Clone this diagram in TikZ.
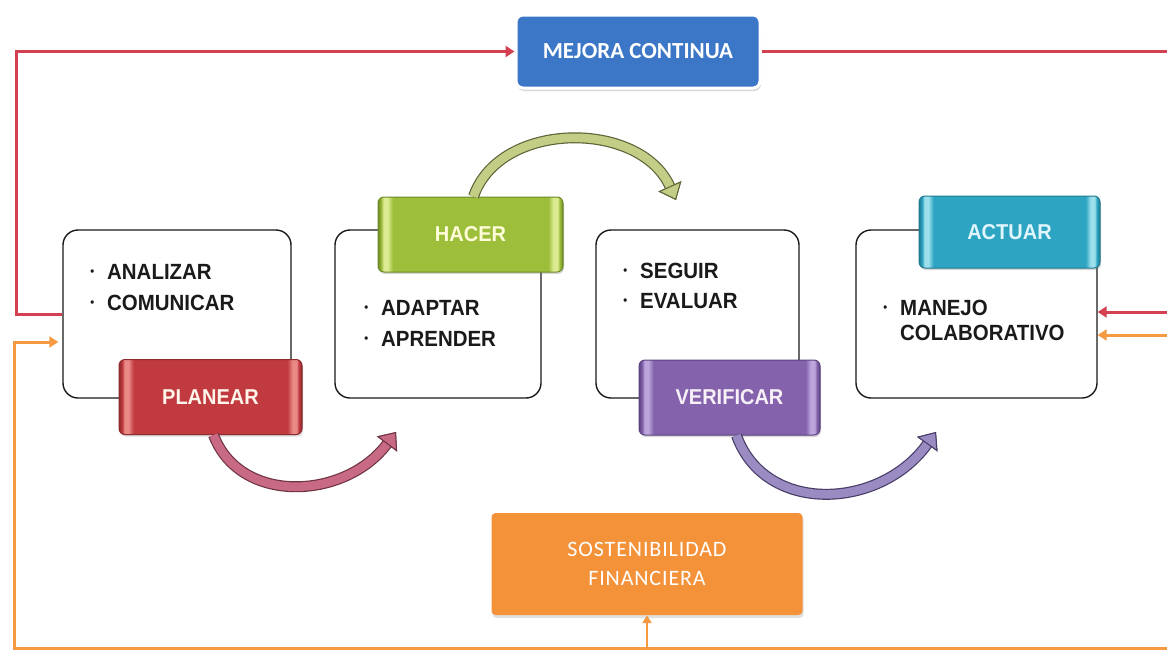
\documentclass[tikz,border=0pt]{standalone}
\usepackage{fontspec}
\newfontfamily\lsans[FakeStretch=0.93]{Liberation Sans}
\newfontfamily\carl{Carlito}
\newfontfamily\carlsp[LetterSpace=4]{Carlito}
\usetikzlibrary{arrows.meta,shadows}

\definecolor{redline}{HTML}{D43F52}
\definecolor{orline}{HTML}{F59A42}
\definecolor{mblue}{HTML}{3B77C6}
\definecolor{sorange}{HTML}{F4923A}
\definecolor{pred}{HTML}{C03A40}\definecolor{predl}{HTML}{E98A86}\definecolor{prede}{HTML}{8E2A2E}
\definecolor{hgreen}{HTML}{9DBE3A}\definecolor{hgreenl}{HTML}{DCEB92}\definecolor{hgreene}{HTML}{6E8A28}
\definecolor{vpurp}{HTML}{8462AC}\definecolor{vpurpl}{HTML}{BCA5DC}\definecolor{vpurpe}{HTML}{5C4480}
\definecolor{acyan}{HTML}{2DA5C2}\definecolor{acyanl}{HTML}{9DE0EC}\definecolor{acyane}{HTML}{1F7A90}
\definecolor{txt}{HTML}{1A1A1A}
\definecolor{pinkf}{HTML}{C96A84}\definecolor{pinko}{HTML}{6E3444}
\definecolor{greenf}{HTML}{C4CD86}\definecolor{greeno}{HTML}{5E6438}
\definecolor{purpf}{HTML}{9A8CC2}\definecolor{purpo}{HTML}{463C66}

\pgfdeclarehorizontalshading{planshade}{100bp}{color(0bp)=(prede); color(25bp)=(prede); color(25.9bp)=(pred); color(26.5bp)=(predl); color(27.6bp)=(predl); color(29bp)=(pred); color(71bp)=(pred); color(72.4bp)=(predl); color(73.5bp)=(predl); color(74.1bp)=(pred); color(75bp)=(prede); color(100bp)=(prede)}
\pgfdeclarehorizontalshading{hacshade}{100bp}{color(0bp)=(hgreene); color(25bp)=(hgreene); color(25.9bp)=(hgreen); color(26.5bp)=(hgreenl); color(27.6bp)=(hgreenl); color(29bp)=(hgreen); color(71bp)=(hgreen); color(72.4bp)=(hgreenl); color(73.5bp)=(hgreenl); color(74.1bp)=(hgreen); color(75bp)=(hgreene); color(100bp)=(hgreene)}
\pgfdeclarehorizontalshading{verishade}{100bp}{color(0bp)=(vpurpe); color(25bp)=(vpurpe); color(25.9bp)=(vpurp); color(26.5bp)=(vpurpl); color(27.6bp)=(vpurpl); color(29bp)=(vpurp); color(71bp)=(vpurp); color(72.4bp)=(vpurpl); color(73.5bp)=(vpurpl); color(74.1bp)=(vpurp); color(75bp)=(vpurpe); color(100bp)=(vpurpe)}
\pgfdeclarehorizontalshading{actshade}{100bp}{color(0bp)=(acyane); color(25bp)=(acyane); color(25.9bp)=(acyan); color(26.5bp)=(acyanl); color(27.6bp)=(acyanl); color(29bp)=(acyan); color(71bp)=(acyan); color(72.4bp)=(acyanl); color(73.5bp)=(acyanl); color(74.1bp)=(acyan); color(75bp)=(acyane); color(100bp)=(acyane)}

\newcommand\bl{\makebox[0pt][r]{\raisebox{4pt}{\fontsize{12}{12}\selectfont\textbullet}\hspace{13pt}}}
\newcommand\curvarrow[3]{%
  \draw[#2, line width=11pt, -{Triangle[length=15pt,width=25pt,line width=1pt,fill=#1,color=#2]}] #3;
  \draw[#1, line width=8.6pt, -{Triangle[length=15pt,width=25pt,line width=1pt,fill=#1,color=#2]}] #3;}

\tikzset{
  wbox/.style={draw=txt, line width=1.4pt, rounded corners=15pt, fill=white, inner sep=0pt, minimum height=168pt},
  lbl/.style={draw=#1, line width=1pt, rounded corners=6pt, inner sep=0pt, minimum height=75pt,
     font=\lsans\bfseries\fontsize{21.5}{21.5}\selectfont,
     drop shadow={shadow xshift=1pt, shadow yshift=-2pt, opacity=.3}},
  itm/.style={inner sep=0pt, anchor=base west, text=txt, font=\lsans\bfseries\fontsize{22}{22}\selectfont},
  rline/.style={draw=redline, line width=3pt},
  oline/.style={draw=orline, line width=3pt},
  tip/.style={-{Triangle[length=9pt,width=11pt]}},
}

\begin{document}
\begin{tikzpicture}[x=1pt,y=-1pt]
\useasboundingbox[fill=white] (0,0) rectangle (1167,651);

% white boxes
\node[wbox, minimum width=228pt] (b1) at (177,314) {};
\node[wbox, minimum width=206pt] (b2) at (438,314) {};
\node[wbox, minimum width=203pt] (b3) at (697.5,314) {};
\node[wbox, minimum width=241pt] (b4) at (976.5,314) {};

% list texts
\node[itm] (t1a) at (107,279) {\bl ANALIZAR};
\node[itm] (t1b) at (107,310) {\bl COMUNICAR};
\node[itm] (t2a) at (381,315) {\bl ADAPTAR};
\node[itm] (t2b) at (381,346) {\bl APRENDER};
\node[itm] (t3a) at (640,278) {\bl SEGUIR};
\node[itm] (t3b) at (640,308) {\bl EVALUAR};
\node[itm] (t4a) at (900,315) {\bl MANEJO};
\node[itm] (t4b) at (900,340) {COLABORATIVO};

% label boxes
\node[lbl=prede, shading=planshade, minimum width=183pt, text=white!92!orange] (planear) at (210.5,397) {PLANEAR};
\node[lbl=hgreene, shading=hacshade, minimum width=185pt, text=white!85!yellow] (hacer) at (470.5,234.5) {HACER};
\node[lbl=vpurpe, shading=verishade, minimum width=181pt, text=white!94!violet] (verificar) at (729.5,397.5) {VERIFICAR};
\node[lbl=acyane, shading=actshade, minimum width=181pt, minimum height=72pt, text=white!88!cyan] (actuar) at (1009.5,232) {ACTUAR};

\node[draw=white, line width=3pt, fill=mblue, rounded corners=7pt, minimum width=244pt, minimum height=73pt, inner sep=0pt,
  text=white, font=\carl\bfseries\fontsize{23}{23}\selectfont,
  drop shadow={shadow xshift=1pt, shadow yshift=-3pt, opacity=.3}] (mejora) at (638,51.5) {MEJORA CONTINUA};

\node[fill=sorange, rounded corners=4pt, minimum width=311pt, minimum height=102pt, inner sep=0pt,
  text=white, align=center, font=\carlsp\fontsize{22}{29}\selectfont,
  drop shadow={shadow xshift=1pt, shadow yshift=-3pt, opacity=.25}] (sost) at (647,564) {SOSTENIBILIDAD\\FINANCIERA};

% curved arrows
\curvarrow{pinkf}{pinko}{([xshift=3pt]planear.south) .. controls (240,505) and (345,500) .. (396,432)}
\curvarrow{greenf}{greeno}{([xshift=3pt]hacer.north) .. controls (500,120) and (640,120) .. (676,200)}
\curvarrow{purpf}{purpo}{([xshift=7pt]verificar.south) .. controls (765,515) and (880,510) .. (936,432)}

% red feedback line
\coordinate (rl) at (16,51.5);
\coordinate (rtr) at (1167,51.5);
\coordinate (rr) at (1167,312);
\draw[rline,tip] (b1.west) -| (rl) -- (mejora.west);
\draw[rline] (mejora.east) -- (rtr);
\draw[rline,tip] (rr) -- (rr -| b4.east);

% orange line
\coordinate (ol) at (14,342);
\coordinate (obl) at (14,648);
\coordinate (obr) at (1167,648);
\coordinate (ob) at (647,648);
\coordinate (orr) at (1167,335);
\draw[oline,tip,shorten >=4pt] (obr) -- (obl) -- (ol) -- (ol -| b1.west);
\draw[oline,tip] (orr) -- (orr -| b4.east);
\draw[orline, line width=2pt, -{Triangle[length=8pt,width=9pt]}] (ob) -- (sost.south);
\end{tikzpicture}
\end{document}
